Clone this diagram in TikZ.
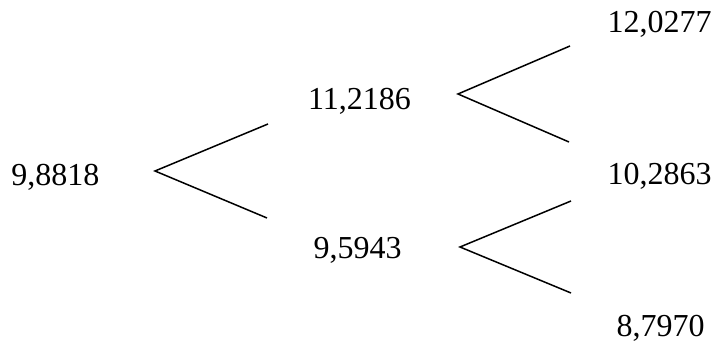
\documentclass[tikz,border=0pt]{standalone}
\usepackage{fontspec}
\setmainfont{Liberation Serif}
\begin{document}
\begin{tikzpicture}[x=1pt,y=1pt,
    val/.style={anchor=base,inner sep=0pt,font=\fontsize{32}{38}\selectfont},
    branch/.style={line width=1.5pt}]
      \useasboundingbox (0,0) rectangle (716,347);
      % prices
      \node[val] (s0) at (55.5,161) {9,8818};
      \node[val] (su) at (359.5,237) {11,2186};
      \node[val] (sd) at (357.5,88) {9,5943};
      \node[val] (suu) at (659.5,314) {12,0277};
      \node[val] (sud) at (659.5,162) {10,2863};
      \node[val] (sdd) at (660.5,10) {8,7970};
      % branches
      \coordinate (s0r) at (155,176);
      \coordinate (s0u) at (268,223);
      \coordinate (s0d) at (267,129);
      \coordinate (sur) at (458,253);
      \coordinate (suu0) at (570,301);
      \coordinate (sud0) at (569,205);
      \coordinate (sdr) at (460,100);
      \coordinate (sdu0) at (571,146);
      \coordinate (sdd0) at (571,54);
      \draw[branch] (s0u) -- (s0r) -- (s0d);
      \draw[branch] (suu0) -- (sur) -- (sud0);
      \draw[branch] (sdu0) -- (sdr) -- (sdd0);
    \end{tikzpicture}
\end{document}
